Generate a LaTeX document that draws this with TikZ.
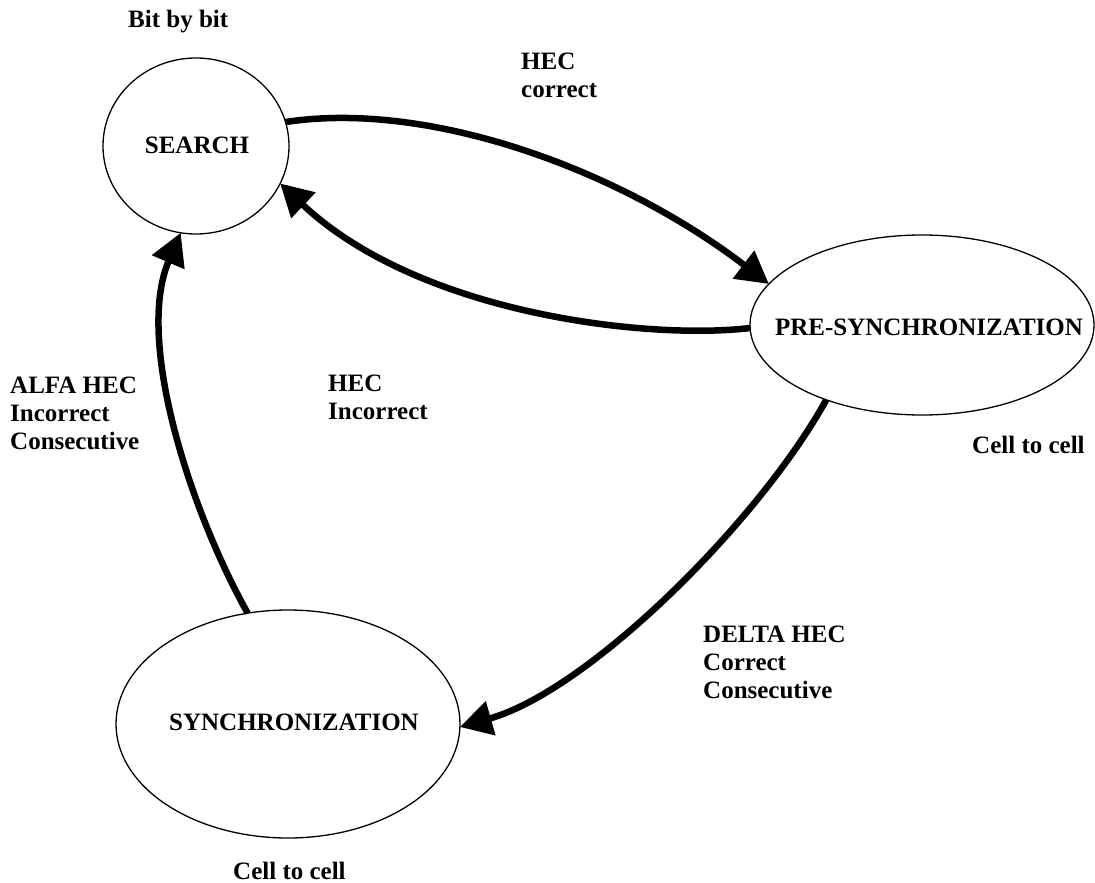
\documentclass[tikz,border=0pt]{standalone}
\usepackage{fontspec}
\setmainfont{Liberation Serif}
\usetikzlibrary{shapes.geometric,arrows.meta}
\begin{document}
\begin{tikzpicture}[x=1pt,y=-1pt,
  state/.style={ellipse, draw, line width=1.3pt, inner sep=0pt, outer sep=0pt},
  statetext/.style={font=\fontsize{25}{28}\selectfont\bfseries, anchor=base, inner sep=0pt},
  lab/.style={font=\fontsize{25}{28}\selectfont\bfseries, anchor=base west, align=left, inner sep=0pt},
  flow/.style={line width=6.5pt, -{Triangle[length=32pt,width=34pt]}}]
\useasboundingbox (0,0) rectangle (1095,883);

% states
\node[state, minimum width=186pt, minimum height=176pt] (search) at (196,146) {};
\node[state, minimum width=344pt, minimum height=180pt] (pre) at (922,325) {};
\node[state, minimum width=344pt, minimum height=228pt] (sync) at (288,724) {};

\node[statetext] (tsearch) at (197,153) {SEARCH};
\node[statetext] (tpre) at (929,335) {PRE-SYNCHRONIZATION};
\node[statetext] (tsync) at (294,730) {SYNCHRONIZATION};

% labels (anchor = baseline of the last line)
\node[lab] (lbit) at (128,28) {Bit by bit};
\node[lab] (lhecc) at (521,97) {HEC\\correct};
\node[lab] (lheci) at (328,419) {HEC\\Incorrect};
\node[lab] (lalfa) at (10,449) {ALFA HEC\\Incorrect\\Consecutive};
\node[lab] (lcell1) at (972,453) {Cell to cell};
\node[lab] (ldelta) at (703,698) {DELTA HEC\\Correct\\Consecutive};
\node[lab] (lcell2) at (233,879) {Cell to cell};

% transitions
\draw[flow] (search.15) .. controls (430,100) and (620,170) .. (pre.165);
\draw[flow] (pre.181) .. controls (650,340) and (420,315) .. (search.-24.5);
\draw[flow] (sync.110.7) .. controls (190,510) and (135,340) .. (search.-100.5);
\draw[flow] (pre.-142.8) .. controls (760,520) and (590,690) .. (sync.-1.9);
\end{tikzpicture}
\end{document}
